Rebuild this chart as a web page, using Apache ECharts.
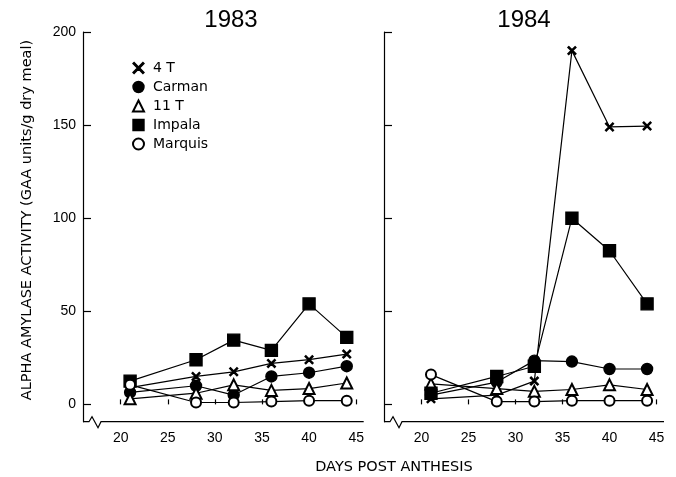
<!DOCTYPE html>
<html><head><meta charset="utf-8">
<script src="https://cdn.jsdelivr.net/npm/echarts@6/dist/echarts.min.js"></script>
<style>html,body{margin:0;padding:0;background:#fff}#c{width:676px;height:477px}</style>
</head><body><div id="c"></div>
<script>
// ---- data ----
const days = [21, 28, 32, 36, 40, 44];
const seriesNames = ['4 T', 'Carman', '11 T', 'Impala', 'Marquis'];
const panelTitles = ['1983', '1984'];
const xTicks = [20, 25, 30, 35, 40, 45];
const yTicks = [0, 50, 100, 150, 200];

const t4_1983      = [9, 15, 17.5, 22, 24, 27];
const carman_1983  = [6.5, 10, 5, 15, 17, 20.5];
const t11_1983     = [3, 6, 10.5, 7.5, 8.5, 11.5];
const impala_1983  = [12.5, 24, 34.5, 29, 54, 36];
const marquis_1983 = [10.5, 1, 1, 1.5, 2, 2];

const t4_1984      = [3, 5, 12.5, 190, 149, 149.5];
const carman_1984  = [5, 12, 23.5, 23, 19, 19];
const t11_1984     = [11, 8.5, 7, 8, 10.5, 8];
const impala_1984  = [6, 15, 20.5, 100, 82.5, 54];
const marquis_1984 = [16, 1.5, 1.5, 2, 2, 2];

const yTitle = 'ALPHA AMYLASE ACTIVITY (GAA units/g dry meal)';
const xTitle = 'DAYS POST ANTHESIS';

// ---- styling ----
const FONT = 'Liberation Sans';
const FONT2 = 'DejaVu Sans';
const CROSS = 'path://M1,0L5,4L9,0L10,1L6,5L10,9L9,10L5,6L1,10L0,9L4,5L0,1Z';
const symbolInfo = {
  '4 T':    {symbol: CROSS, size: 8},
  'Carman': {symbol: 'circle', size: 11},
  '11 T':   {symbol: 'emptyTriangle', size: 11},
  'Impala': {symbol: 'rect', size: 12},
  'Marquis':{symbol: 'emptyCircle', size: 10}
};
const data1983 = [t4_1983, carman_1983, t11_1983, impala_1983, marquis_1983];
const data1984 = [t4_1984, carman_1984, t11_1984, impala_1984, marquis_1984];

const grids = [
  {left: 83, top: 32, width: 280.7, height: 389.7},
  {left: 384, top: 32, width: 280, height: 389.7}
];
const XMIN = 16, XMAX = 45.8, YMIN = -9.3, YMAX = 200;

function mkSeries(arrs, idx) {
  return arrs.map((arr, i) => {
    const nm = seriesNames[i];
    return {
      name: nm, type: 'line', xAxisIndex: idx, yAxisIndex: idx,
      data: days.map((d, k) => [d, arr[k]]),
      symbol: symbolInfo[nm].symbol, symbolSize: symbolInfo[nm].size,
      showAllSymbol: true,
      lineStyle: {color: '#000', width: 1.2},
      itemStyle: {color: '#000', borderColor: '#000', borderWidth: 1.4},
      emphasis: {disabled: true},
      animation: false, z: 3 + i
    };
  });
}

const xAxes = grids.map((g, i) => ({
  gridIndex: i, type: 'value', min: XMIN, max: XMAX,
  axisLine: {show: false},
  axisTick: {show: true, inside: true, length: 5, customValues: xTicks, lineStyle: {color: '#000', width: 1.2}},
  axisLabel: {customValues: xTicks, color: '#000', fontSize: 14, fontFamily: FONT, margin: 9},
  splitLine: {show: false}
}));
const yAxes = grids.map((g, i) => ({
  gridIndex: i, type: 'value', min: YMIN, max: YMAX,
  axisLine: {show: true, lineStyle: {color: '#000', width: 1.2}},
  axisTick: {show: true, inside: true, length: 8, customValues: yTicks, lineStyle: {color: '#000', width: 1.2}},
  axisLabel: {show: i === 0, customValues: yTicks, color: '#000', fontSize: 14, fontFamily: FONT, margin: 7},
  splitLine: {show: false}
}));

// decorative axis lines with break zigzag
const graphics = [];
grids.forEach((g) => {
  const L = g.left, B = g.top + g.height, R = g.left + g.width;
  graphics.push({
    type: 'polyline', silent: true,
    shape: {points: [[L, B], [L + 6, B], [L + 9, B - 5], [L + 15, B + 6], [L + 18, B], [R, B]]},
    style: {stroke: '#000', lineWidth: 1.2, fill: null}
  });
});
graphics.push({type: 'text', x: 231, y: 8, style: {text: panelTitles[0], font: '24px "' + FONT + '"', fill: '#000', textAlign: 'center'}});
graphics.push({type: 'text', x: 524, y: 8, style: {text: panelTitles[1], font: '24px "' + FONT + '"', fill: '#000', textAlign: 'center'}});
graphics.push({type: 'text', x: 27, y: 220, rotation: Math.PI / 2,
  style: {text: yTitle, font: '14.5px "' + FONT2 + '"', fill: '#000', textAlign: 'center', textVerticalAlign: 'middle'}});
graphics.push({type: 'text', x: 394, y: 467,
  style: {text: xTitle, font: '14.5px "' + FONT2 + '"', fill: '#000', textAlign: 'center', textVerticalAlign: 'middle'}});

const chart = echarts.init(document.getElementById('c'), null, {renderer: 'canvas'});
chart.setOption({
  animation: false,
  backgroundColor: '#fff',
  grid: grids.map(g => Object.assign({show: false}, g)),
  xAxis: xAxes,
  yAxis: yAxes,
  legend: {
    orient: 'vertical', left: 132, top: 61, padding: 0,
    itemWidth: 11, itemHeight: 11, itemGap: 5,
    selectedMode: false,
    textStyle: {color: '#000', fontSize: 14, fontFamily: FONT2, padding: [0, 0, 0, 4]},
    data: seriesNames.map(n => ({name: n, icon: symbolInfo[n].symbol,
      itemStyle: {color: '#000', borderColor: '#000', borderWidth: 1.4}}))
  },
  series: mkSeries(data1983, 0).concat(mkSeries(data1984, 1)),
  graphic: graphics
});
</script>
</body></html>
